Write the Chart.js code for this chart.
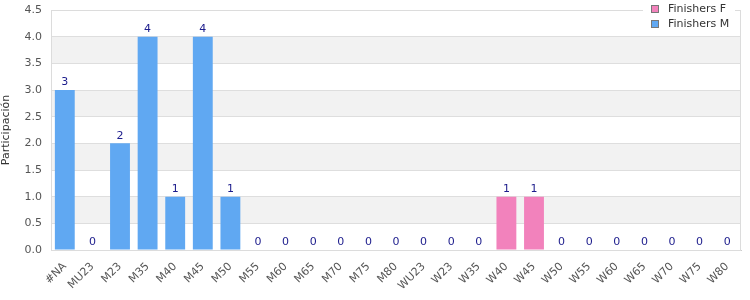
<!DOCTYPE html>
<html>
<head>
<meta charset="utf-8">
<script src="https://cdn.jsdelivr.net/npm/chart.js@4"></script>
<style>
  html, body { margin: 0; padding: 0; background: #fff; overflow: hidden; }
  #wrap { width: 750px; height: 300px; position: relative; }
</style>
</head>
<body>
<div id="wrap"><canvas id="chart"></canvas></div>
<script>
// categorias y valores
const categories = ['#NA', 'MU23', 'M23', 'M35', 'M40', 'M45', 'M50', 'M55', 'M60', 'M65', 'M70', 'M75', 'M80',
    'WU23', 'W23', 'W35', 'W40', 'W45', 'W50', 'W55', 'W60', 'W65', 'W70', 'W75', 'W80'];
const finishersF = [0, 0, 0, 0, 0, 0, 0, 0, 0, 0, 0, 0, 0, 0, 0, 0, 1, 1, 0, 0, 0, 0, 0, 0, 0];
const finishersM = [3, 0, 2, 4, 1, 4, 1, 0, 0, 0, 0, 0, 0, 0, 0, 0, 0, 0, 0, 0, 0, 0, 0, 0, 0];
const yTicks = [0, 0.5, 1, 1.5, 2, 2.5, 3, 3.5, 4, 4.5];

const colorF = '#f282bc';
const colorM = '#60a8f2';
const fontFamily = '"DejaVu Sans", Verdana, sans-serif';

// bandas grises alternas
const bandsPlugin = {
    id: 'bands',
    beforeDraw(chart) {
        const { ctx, chartArea, scales } = chart;
        ctx.save();
        ctx.fillStyle = '#f2f2f2';
        for (let i = 1; i < yTicks.length - 1; i += 2) {
            const yTop = scales.y.getPixelForValue(yTicks[i + 1]);
            const yBot = scales.y.getPixelForValue(yTicks[i]);
            ctx.fillRect(chartArea.left, yTop, chartArea.right - chartArea.left, yBot - yTop);
        }
        ctx.restore();
    },
    afterDraw(chart) {
        const { ctx, chartArea } = chart;
        ctx.save();
        ctx.strokeStyle = '#dcdcdc';
        ctx.lineWidth = 1;
        ctx.strokeRect(chartArea.left + 0.5, chartArea.top + 0.5, chartArea.right - chartArea.left - 1, chartArea.bottom - chartArea.top);
        ctx.restore();
    }
};

// etiquetas con el total encima de cada barra
const totalsPlugin = {
    id: 'totals',
    afterDatasetsDraw(chart) {
        const { ctx, scales } = chart;
        ctx.save();
        ctx.font = '11px ' + fontFamily;
        ctx.fillStyle = '#1c1c8c';
        ctx.textAlign = 'center';
        ctx.textBaseline = 'bottom';
        categories.forEach((c, i) => {
            const total = finishersF[i] + finishersM[i];
            const x = scales.x.getPixelForValue(i);
            const y = scales.y.getPixelForValue(total);
            ctx.fillText(String(total), x, y - 2);
        });
        ctx.restore();
    }
};

// leyenda arriba a la derecha
const legendPlugin = {
    id: 'customLegend',
    afterDraw(chart) {
        const { ctx } = chart;
        const items = chart.data.datasets;
        ctx.save();
        ctx.fillStyle = '#fff';
        ctx.fillRect(643, 0, 92, 34);
        ctx.font = '11px ' + fontFamily;
        ctx.textBaseline = 'middle';
        items.forEach((ds, i) => {
            const y = 9 + i * 15;
            ctx.fillStyle = ds.backgroundColor;
            ctx.fillRect(651, y - 4, 8, 8);
            ctx.strokeStyle = '#777';
            ctx.lineWidth = 1;
            ctx.strokeRect(651.5, y - 3.5, 7, 7);
            ctx.fillStyle = '#333';
            ctx.textAlign = 'left';
            ctx.fillText(ds.label, 668, y);
        });
        ctx.restore();
    }
};

const ctx = document.getElementById('chart').getContext('2d');
new Chart(ctx, {
    type: 'bar',
    data: {
        labels: categories,
        datasets: [
            { label: 'Finishers F', data: finishersF, backgroundColor: colorF, borderWidth: 0 },
            { label: 'Finishers M', data: finishersM, backgroundColor: colorM, borderWidth: 0 }
        ]
    },
    options: {
        responsive: true,
        maintainAspectRatio: false,
        animation: false,
        layout: { padding: { top: 10, right: 9, left: 0, bottom: 0 } },
        categoryPercentage: 0.8,
        barPercentage: 0.9,
        plugins: {
            legend: { display: false },
            tooltip: { enabled: false }
        },
        scales: {
            x: {
                stacked: true,
                grid: { display: false },
                border: { color: '#cccccc' },
                ticks: {
                    color: '#555',
                    font: { family: fontFamily, size: 11 },
                    minRotation: 45,
                    maxRotation: 45,
                    autoSkip: false,
                    padding: 2
                },
                afterFit(scale) {
                    scale.height = 50;
                    scale.paddingLeft = 0;
                    scale.paddingRight = 0;
                }
            },
            y: {
                stacked: true,
                min: 0,
                max: 4.5,
                ticks: {
                    stepSize: 0.5,
                    color: '#555',
                    font: { family: fontFamily, size: 11 },
                    callback: v => Number(v).toFixed(1),
                    padding: 9
                },
                grid: { color: '#dedede', drawTicks: false },
                border: { display: false },
                title: {
                    display: true,
                    text: 'Participación',
                    color: '#333',
                    font: { family: fontFamily, size: 11 },
                    padding: 0
                },
                afterFit(scale) {
                    scale.width = 51;
                    scale.paddingTop = 0;
                    scale.paddingBottom = 0;
                }
            }
        }
    },
    plugins: [bandsPlugin, totalsPlugin, legendPlugin]
});
</script>
</body>
</html>
